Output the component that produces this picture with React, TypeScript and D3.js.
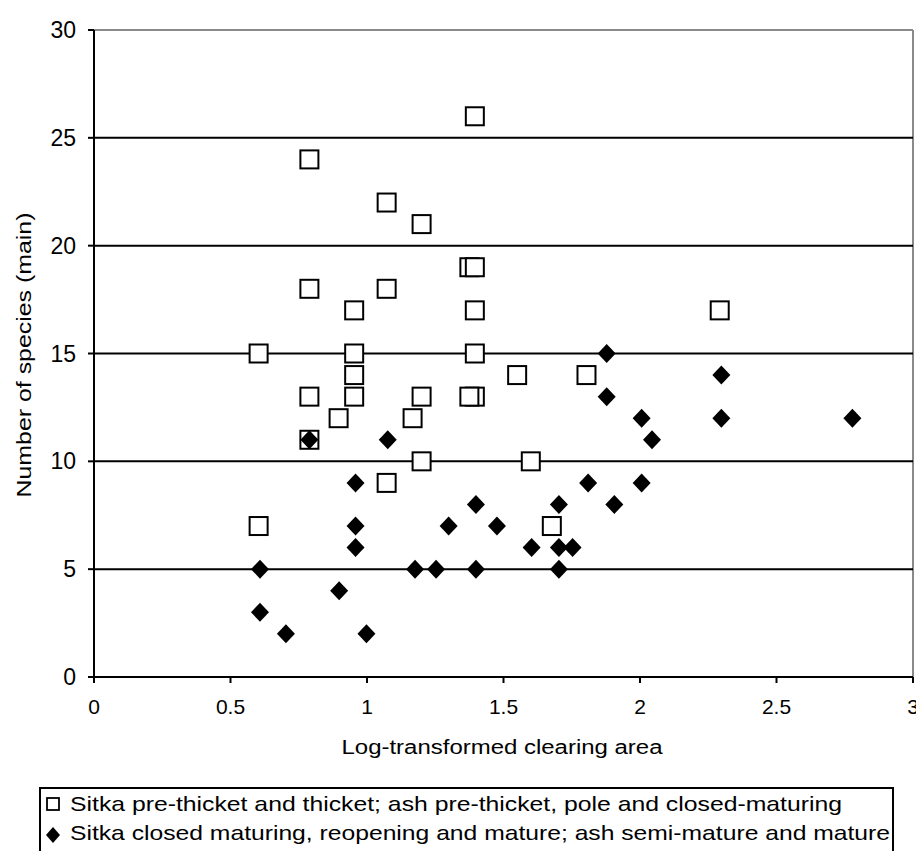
import React from "react";
import * as d3 from "d3";

// Open squares: Sitka pre-thicket and thicket; ash pre-thicket, pole and closed-maturing
const openX = [0.603, 0.603, 0.789, 0.789, 0.789, 0.789, 0.896, 0.953, 0.953, 0.953, 0.953, 1.072, 1.072, 1.072, 1.167, 1.2, 1.2, 1.2, 1.375, 1.395, 1.395, 1.395, 1.395, 1.395, 1.375, 1.55, 1.6, 1.677, 1.804, 2.292];
const openY = [15, 7, 24, 18, 13, 11, 12, 17, 15, 14, 13, 22, 18, 9, 12, 21, 13, 10, 19, 19, 26, 17, 15, 13, 13, 14, 10, 7, 14, 17];

// Filled diamonds: Sitka closed maturing, reopening and mature; ash semi-mature and mature
const filledX = [0.608, 0.608, 0.703, 0.789, 0.898, 0.958, 0.958, 0.958, 0.998, 1.076, 1.176, 1.253, 1.299, 1.399, 1.399, 1.476, 1.603, 1.703, 1.703, 1.703, 1.753, 1.81, 1.878, 1.878, 1.906, 2.006, 2.006, 2.044, 2.298, 2.298, 2.778];
const filledY = [5, 3, 2, 11, 4, 9, 7, 6, 2, 11, 5, 5, 7, 8, 5, 7, 6, 8, 6, 5, 6, 9, 15, 13, 8, 12, 9, 11, 14, 12, 12];

const xTicks = [0, 0.5, 1, 1.5, 2, 2.5, 3];
const yTicks = [0, 5, 10, 15, 20, 25, 30];

const seriesNames = [
  "Sitka pre-thicket and thicket; ash pre-thicket, pole and closed-maturing",
  "Sitka closed maturing, reopening and mature; ash semi-mature and mature",
];
const xTitle = "Log-transformed clearing area";
const yTitle = "Number of species (main)";

const W = 916;
const H = 851;
const FONT = "'Liberation Sans', Arial, sans-serif";

function diamond(cx: number, cy: number, hw: number, hh: number) {
  return `M${cx},${cy - hh}L${cx + hw},${cy}L${cx},${cy + hh}L${cx - hw},${cy}Z`;
}

export default function App() {
  const x = d3.scaleLinear().domain([0, 3]).range([94, 913]);
  const y = d3.scaleLinear().domain([0, 30]).range([677, 30]);
  const [x0, x1] = x.range();
  const [y0, y1] = y.range();

  return (
    <div style={{ position: "absolute", left: 0, top: 0 }}>
      <svg width={W} height={H} style={{ display: "block", background: "#fff" }} fontFamily={FONT}>
        <rect x={0} y={0} width={W} height={H} fill="#fff" />
        {/* plot border (gray) */}
        <line x1={x0} x2={x1} y1={y1} y2={y1} stroke="#8a8a8a" strokeWidth={2} />
        <line x1={x1} x2={x1} y1={y1} y2={y0} stroke="#8a8a8a" strokeWidth={2} />
        {/* gridlines */}
        {yTicks.filter((t) => t > 0 && t < 30).map((t) => (
          <line key={"g" + t} x1={x0} x2={x1} y1={y(t)} y2={y(t)} stroke="#000" strokeWidth={2} />
        ))}
        {/* axes */}
        <line x1={x0} x2={x0} y1={y1} y2={y0} stroke="#000" strokeWidth={2} />
        <line x1={x0} x2={x1} y1={y0} y2={y0} stroke="#000" strokeWidth={2} />
        {yTicks.map((t) => (
          <g key={"yt" + t}>
            <line x1={x0 - 6} x2={x0} y1={y(t)} y2={y(t)} stroke="#000" strokeWidth={2} />
            <text x={76} y={y(t) + 8} textAnchor="end" fontSize={23} fill="#000">
              {d3.format("~g")(t)}
            </text>
          </g>
        ))}
        {xTicks.map((t) => (
          <g key={"xt" + t}>
            <line x1={x(t)} x2={x(t)} y1={y0} y2={y0 + 6} stroke="#000" strokeWidth={2} />
            <text x={x(t)} y={714} textAnchor="middle" fontSize={21} fill="#000">
              {d3.format("~g")(t)}
            </text>
          </g>
        ))}
        {/* titles */}
        <text x={502} y={754} textAnchor="middle" fontSize={20} textLength={321} lengthAdjust="spacingAndGlyphs" fill="#000">
          {xTitle}
        </text>
        <text
          transform="translate(31,355) rotate(-90)"
          textAnchor="middle"
          fontSize={20}
          textLength={285}
          lengthAdjust="spacingAndGlyphs"
          fill="#000"
        >
          {yTitle}
        </text>
        {/* open squares */}
        {openX.map((v, i) => (
          <rect
            key={"s" + i}
            x={x(v) - 9}
            y={y(openY[i]) - 9}
            width={18}
            height={18}
            fill="#fff"
            stroke="#000"
            strokeWidth={2}
          />
        ))}
        {/* filled diamonds */}
        {filledX.map((v, i) => (
          <path key={"d" + i} d={diamond(x(v), y(filledY[i]), 9, 9.5)} fill="#000" />
        ))}
        {/* legend */}
        <rect x={40} y={788} width={853} height={90} fill="#fff" stroke="#000" strokeWidth={2} />
        <rect x={47} y={798} width={12} height={12} fill="#fff" stroke="#000" strokeWidth={1.8} />
        <text x={70} y={811} fontSize={21} textLength={772} lengthAdjust="spacingAndGlyphs" fill="#000">
          {seriesNames[0]}
        </text>
        <path d={diamond(53, 835, 7, 8)} fill="#000" />
        <text x={70} y={840} fontSize={21} textLength={820} lengthAdjust="spacingAndGlyphs" fill="#000">
          {seriesNames[1]}
        </text>
      </svg>
    </div>
  );
}
